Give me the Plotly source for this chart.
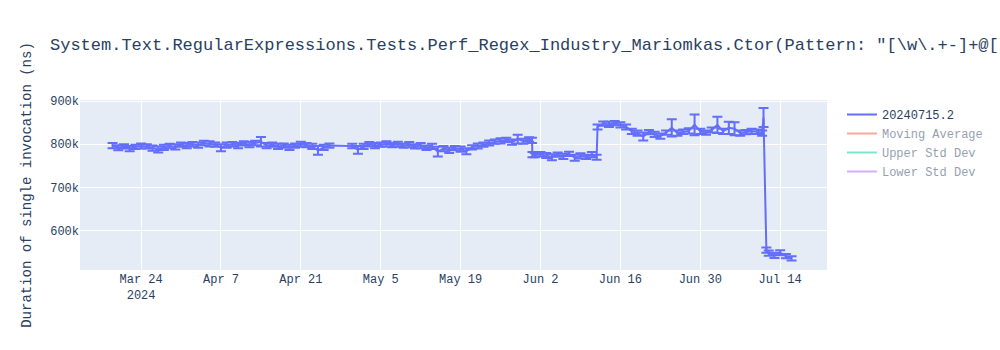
import pandas as pd
import plotly.graph_objects as go

TITLE = ('System.Text.RegularExpressions.Tests.Perf_Regex_Industry_Mariomkas.Ctor'
         '(Pattern: "[\\w\\.+-]+@[\\w\\.-]+\\.[\\w\\.-]+", Options: None)')
SERIES_NAME = "20240715.2"
Y_TITLE = "Duration of single invocation (ns)"

# Run timestamps
dates = [
    "2024-03-19", "2024-03-20", "2024-03-21", "2024-03-22", "2024-03-23",
    "2024-03-24", "2024-03-25", "2024-03-26", "2024-03-27", "2024-03-28",
    "2024-03-29", "2024-03-30", "2024-03-31", "2024-04-01", "2024-04-02",
    "2024-04-03", "2024-04-04", "2024-04-05", "2024-04-06", "2024-04-07",
    "2024-04-08", "2024-04-09", "2024-04-10", "2024-04-11", "2024-04-12",
    "2024-04-13", "2024-04-14", "2024-04-15", "2024-04-16", "2024-04-17",
    "2024-04-18", "2024-04-19", "2024-04-20", "2024-04-21", "2024-04-22",
    "2024-04-23", "2024-04-24", "2024-04-25", "2024-04-26", "2024-04-30",
    "2024-05-01", "2024-05-02", "2024-05-03", "2024-05-04", "2024-05-05",
    "2024-05-06", "2024-05-07", "2024-05-08", "2024-05-09", "2024-05-10",
    "2024-05-11", "2024-05-12", "2024-05-13", "2024-05-14", "2024-05-15",
    "2024-05-16", "2024-05-17", "2024-05-18", "2024-05-19", "2024-05-20",
    "2024-05-21", "2024-05-22", "2024-05-23", "2024-05-24", "2024-05-25",
    "2024-05-26", "2024-05-27", "2024-05-28", "2024-05-29", "2024-05-30",
    "2024-05-31", "2024-05-31 12:00", "2024-05-31 14:00", "2024-06-01",
    "2024-06-02", "2024-06-03", "2024-06-04", "2024-06-05", "2024-06-06",
    "2024-06-07", "2024-06-08", "2024-06-09", "2024-06-10", "2024-06-11",
    "2024-06-11 20:00", "2024-06-12", "2024-06-13", "2024-06-14",
    "2024-06-15", "2024-06-16", "2024-06-17", "2024-06-18", "2024-06-19",
    "2024-06-20", "2024-06-21", "2024-06-22", "2024-06-23", "2024-06-24",
    "2024-06-25", "2024-06-26", "2024-06-27", "2024-06-28", "2024-06-29",
    "2024-06-30", "2024-07-01", "2024-07-02", "2024-07-03", "2024-07-04",
    "2024-07-05", "2024-07-06", "2024-07-07", "2024-07-08", "2024-07-09",
    "2024-07-10", "2024-07-10 20:00", "2024-07-11 02:00", "2024-07-11 14:00",
    "2024-07-12", "2024-07-13", "2024-07-14", "2024-07-15", "2024-07-16",
]

# Mean duration per run, in thousands of ns
values_k = [
    797, 792, 795, 790, 794,
    796, 795, 791, 788, 793,
    796, 794, 799, 797, 800,
    798, 803, 801, 799, 792,
    798, 800, 797, 802, 799,
    803, 806, 797, 799, 795,
    797, 793, 797, 800, 798,
    795, 786, 793, 797, 796,
    787, 795, 800, 797, 799,
    801, 798, 800, 797, 799,
    795, 797, 792, 795, 783,
    790, 786, 791, 789, 784,
    793, 796, 799, 803, 806,
    808, 810, 805, 812, 807,
    811, 809, 776, 775,
    777, 774, 770, 776, 772,
    778, 769, 773, 771, 776,
    770, 840, 848, 846,
    849, 845, 840, 830, 826,
    818, 828, 823, 819, 827,
    838, 826, 829, 831, 845,
    830, 827, 833, 845, 830,
    838, 836, 826, 828, 830,
    829, 826, 862, 555,
    548, 543, 549, 541, 536,
]

# Standard error per run, in thousands of ns
errors_k = [
    6, 6, 5, 6, 5,
    6, 5, 6, 7, 6,
    5, 6, 5, 6, 5,
    6, 5, 6, 5, 8,
    6, 5, 6, 5, 6,
    5, 11, 6, 5, 6,
    5, 6, 5, 6, 5,
    6, 10, 6, 5, 5,
    9, 6, 5, 6, 5,
    6, 5, 6, 5, 6,
    5, 6, 5, 6, 11,
    6, 6, 5, 6, 7,
    5, 6, 5, 6, 5,
    6, 5, 6, 10, 6,
    5, 6, 6, 5,
    5, 6, 7, 5, 6,
    5, 7, 6, 5, 6,
    6, 6, 5, 6,
    5, 6, 6, 6, 6,
    9, 5, 6, 6, 5,
    20, 6, 5, 6, 24,
    6, 5, 6, 19, 6,
    14, 15, 6, 5, 6,
    5, 6, 22, 6,
    6, 6, 6, 5, 5,
]

df = pd.DataFrame({
    "date": pd.to_datetime(dates, format="mixed"),
    "value": [v * 1000 for v in values_k],
    "error": [e * 1000 for e in errors_k],
})
rolling = df["value"].rolling(7, min_periods=1)
df["ma"] = rolling.mean()
df["std"] = rolling.std().fillna(0)

FONT = "Courier New, Liberation Mono, monospace"

fig = go.Figure()
fig.add_trace(go.Scatter(
    x=df["date"], y=df["value"], mode="lines", name=SERIES_NAME,
    error_y=dict(type="data", array=df["error"], visible=True,
                 width=5, thickness=2),
))
fig.add_trace(go.Scatter(
    x=df["date"], y=df["ma"], mode="lines", name="Moving Average",
    visible="legendonly",
))
fig.add_trace(go.Scatter(
    x=df["date"], y=df["ma"] + df["std"], mode="lines", name="Upper Std Dev",
    visible="legendonly",
))
fig.add_trace(go.Scatter(
    x=df["date"], y=df["ma"] - df["std"], mode="lines", name="Lower Std Dev",
    visible="legendonly",
))

fig.update_layout(
    width=1000, height=350,
    font=dict(family=FONT),
    title=dict(text=TITLE),
    yaxis=dict(title=dict(text=Y_TITLE), range=[509000, 902500]),
    xaxis=dict(range=["2024-03-13 07:00", "2024-07-22 05:00"]),
)

fig.write_html("out.html")
